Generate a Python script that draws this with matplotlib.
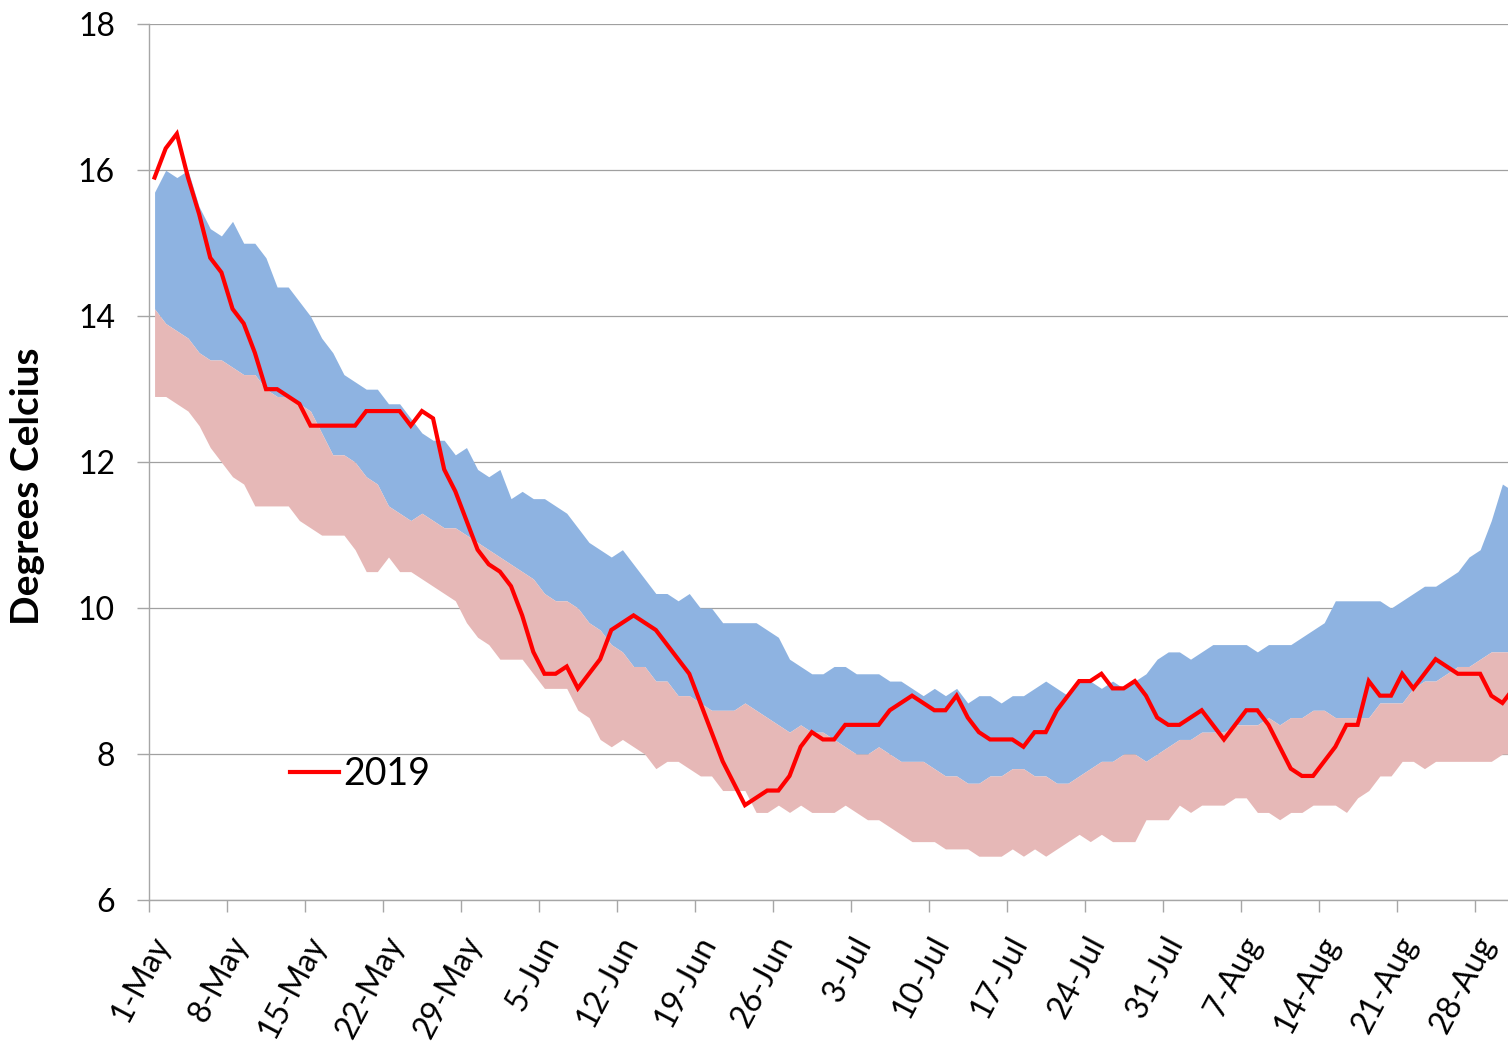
import matplotlib
matplotlib.use("Agg")
import matplotlib.pyplot as plt
import numpy as np

plt.rcParams['font.family'] = ['Lato', 'DejaVu Sans']

# daily values 1-May .. 31-Aug
temp_2019 = [15.9, 16.3, 16.5, 15.9, 15.4, 14.8, 14.6, 14.1, 13.9, 13.5,
             13.0, 13.0, 12.9, 12.8, 12.5, 12.5, 12.5, 12.5, 12.5, 12.7,
             12.7, 12.7, 12.7, 12.5, 12.7, 12.6, 11.9, 11.6, 11.2, 10.8,
             10.6, 10.5, 10.3, 9.9, 9.4, 9.1, 9.1, 9.2, 8.9, 9.1,
             9.3, 9.7, 9.8, 9.9, 9.8, 9.7, 9.5, 9.3, 9.1, 8.7,
             8.3, 7.9, 7.6, 7.3, 7.4, 7.5, 7.5, 7.7, 8.1, 8.3,
             8.2, 8.2, 8.4, 8.4, 8.4, 8.4, 8.6, 8.7, 8.8, 8.7,
             8.6, 8.6, 8.8, 8.5, 8.3, 8.2, 8.2, 8.2, 8.1, 8.3,
             8.3, 8.6, 8.8, 9.0, 9.0, 9.1, 8.9, 8.9, 9.0, 8.8,
             8.5, 8.4, 8.4, 8.5, 8.6, 8.4, 8.2, 8.4, 8.6, 8.6,
             8.4, 8.1, 7.8, 7.7, 7.7, 7.9, 8.1, 8.4, 8.4, 9.0,
             8.8, 8.8, 9.1, 8.9, 9.1, 9.3, 9.2, 9.1, 9.1, 9.1,
             8.8, 8.7, 8.9]

upper = [15.7, 16.0, 15.9, 16.0, 15.5, 15.2, 15.1, 15.3, 15.0, 15.0,
         14.8, 14.4, 14.4, 14.2, 14.0, 13.7, 13.5, 13.2, 13.1, 13.0,
         13.0, 12.8, 12.8, 12.6, 12.4, 12.3, 12.3, 12.1, 12.2, 11.9,
         11.8, 11.9, 11.5, 11.6, 11.5, 11.5, 11.4, 11.3, 11.1, 10.9,
         10.8, 10.7, 10.8, 10.6, 10.4, 10.2, 10.2, 10.1, 10.2, 10.0,
         10.0, 9.8, 9.8, 9.8, 9.8, 9.7, 9.6, 9.3, 9.2, 9.1,
         9.1, 9.2, 9.2, 9.1, 9.1, 9.1, 9.0, 9.0, 8.9, 8.8,
         8.9, 8.8, 8.9, 8.7, 8.8, 8.8, 8.7, 8.8, 8.8, 8.9,
         9.0, 8.9, 8.8, 9.0, 9.0, 8.9, 9.0, 8.9, 9.0, 9.1,
         9.3, 9.4, 9.4, 9.3, 9.4, 9.5, 9.5, 9.5, 9.5, 9.4,
         9.5, 9.5, 9.5, 9.6, 9.7, 9.8, 10.1, 10.1, 10.1, 10.1,
         10.1, 10.0, 10.1, 10.2, 10.3, 10.3, 10.4, 10.5, 10.7, 10.8,
         11.2, 11.7, 11.6]

middle = [14.1, 13.9, 13.8, 13.7, 13.5, 13.4, 13.4, 13.3, 13.2, 13.2,
          13.0, 12.9, 12.9, 12.8, 12.7, 12.4, 12.1, 12.1, 12.0, 11.8,
          11.7, 11.4, 11.3, 11.2, 11.3, 11.2, 11.1, 11.1, 11.0, 10.9,
          10.8, 10.7, 10.6, 10.5, 10.4, 10.2, 10.1, 10.1, 10.0, 9.8,
          9.7, 9.5, 9.4, 9.2, 9.2, 9.0, 9.0, 8.8, 8.8, 8.7,
          8.6, 8.6, 8.6, 8.7, 8.6, 8.5, 8.4, 8.3, 8.4, 8.3,
          8.3, 8.2, 8.1, 8.0, 8.0, 8.1, 8.0, 7.9, 7.9, 7.9,
          7.8, 7.7, 7.7, 7.6, 7.6, 7.7, 7.7, 7.8, 7.8, 7.7,
          7.7, 7.6, 7.6, 7.7, 7.8, 7.9, 7.9, 8.0, 8.0, 7.9,
          8.0, 8.1, 8.2, 8.2, 8.3, 8.3, 8.3, 8.4, 8.4, 8.4,
          8.5, 8.4, 8.5, 8.5, 8.6, 8.6, 8.5, 8.5, 8.5, 8.5,
          8.7, 8.7, 8.7, 8.9, 9.0, 9.0, 9.1, 9.2, 9.2, 9.3,
          9.4, 9.4, 9.4]

lower = [12.9, 12.9, 12.8, 12.7, 12.5, 12.2, 12.0, 11.8, 11.7, 11.4,
         11.4, 11.4, 11.4, 11.2, 11.1, 11.0, 11.0, 11.0, 10.8, 10.5,
         10.5, 10.7, 10.5, 10.5, 10.4, 10.3, 10.2, 10.1, 9.8, 9.6,
         9.5, 9.3, 9.3, 9.3, 9.1, 8.9, 8.9, 8.9, 8.6, 8.5,
         8.2, 8.1, 8.2, 8.1, 8.0, 7.8, 7.9, 7.9, 7.8, 7.7,
         7.7, 7.5, 7.5, 7.5, 7.2, 7.2, 7.3, 7.2, 7.3, 7.2,
         7.2, 7.2, 7.3, 7.2, 7.1, 7.1, 7.0, 6.9, 6.8, 6.8,
         6.8, 6.7, 6.7, 6.7, 6.6, 6.6, 6.6, 6.7, 6.6, 6.7,
         6.6, 6.7, 6.8, 6.9, 6.8, 6.9, 6.8, 6.8, 6.8, 7.1,
         7.1, 7.1, 7.3, 7.2, 7.3, 7.3, 7.3, 7.4, 7.4, 7.2,
         7.2, 7.1, 7.2, 7.2, 7.3, 7.3, 7.3, 7.2, 7.4, 7.5,
         7.7, 7.7, 7.9, 7.9, 7.8, 7.9, 7.9, 7.9, 7.9, 7.9,
         7.9, 8.0, 8.0]

tick_labels = ['1-May', '8-May', '15-May', '22-May', '29-May', '5-Jun', '12-Jun',
               '19-Jun', '26-Jun', '3-Jul', '10-Jul', '17-Jul', '24-Jul',
               '31-Jul', '7-Aug', '14-Aug', '21-Aug', '28-Aug']

# each day sits in the middle of its slot
x = np.arange(len(temp_2019)) + 0.5

fig = plt.figure(figsize=(15.08, 10.45), dpi=100)
ax = fig.add_axes([149 / 1508, 1 - 900 / 1045, 1359 / 1508, (900 - 24.3) / 1045])

ax.fill_between(x, middle, upper, color='#8EB3E1', linewidth=0, zorder=2)
ax.fill_between(x, lower, middle, color='#E6B8B7', linewidth=0, zorder=2)
ax.plot(x, temp_2019, color='#FF0000', linewidth=3.0, label='2019', zorder=3,
        solid_joinstyle='miter')

ax.set_xlim(0, 122)
ax.set_ylim(6, 18)
ax.set_yticks(np.arange(6, 19, 2))
ax.set_xticks(np.arange(0, 7 * len(tick_labels), 7))
ax.set_xticklabels(tick_labels, rotation=62, ha='right', va='top',
                   rotation_mode='anchor')

ax.grid(axis='y', color='#A0A0A0', linewidth=0.9, zorder=1)
ax.set_axisbelow(True)
for s in ['top', 'right']:
    ax.spines[s].set_visible(False)
for s in ['left', 'bottom']:
    ax.spines[s].set_color('#A6A6A6')
    ax.spines[s].set_linewidth(1.0)

ax.tick_params(axis='both', colors='#A6A6A6', labelcolor='black', length=8.5,
               width=1.0, labelsize=23)
ax.tick_params(axis='y', pad=16)
ax.tick_params(axis='x', pad=14)

ax.set_ylabel('Degrees Celcius', fontsize=28, fontweight='bold')
ax.yaxis.set_label_coords(-0.0765, 0.473)

ax.legend(loc='center left', bbox_to_anchor=(290 / 1508, 1 - 774 / 1045),
          bbox_transform=fig.transFigure, frameon=False, fontsize=27,
          handlelength=1.3, handletextpad=0.12, borderpad=0, borderaxespad=0)

fig.savefig('out.png', dpi=100)
